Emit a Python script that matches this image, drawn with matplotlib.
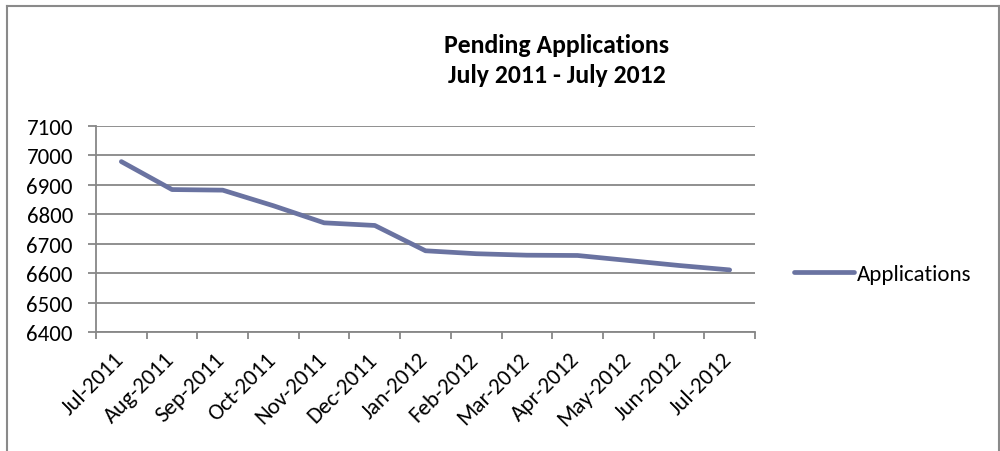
import matplotlib
matplotlib.use("Agg")
import matplotlib.pyplot as plt
from matplotlib.lines import Line2D
from matplotlib import font_manager
from matplotlib.transforms import ScaledTranslation

months = ["Jul-2011", "Aug-2011", "Sep-2011", "Oct-2011", "Nov-2011", "Dec-2011",
          "Jan-2012", "Feb-2012", "Mar-2012", "Apr-2012", "May-2012", "Jun-2012", "Jul-2012"]
applications = [6979, 6884, 6882, 6829, 6771, 6762, 6676, 6666, 6661, 6660, 6643, 6626, 6611]
y_ticks = [6400, 6500, 6600, 6700, 6800, 6900, 7000, 7100]
title_lines = ["Pending Applications", "July 2011 - July 2012"]
series_name = "Applications"

names = {f.name for f in font_manager.fontManager.ttflist}
if 'Carlito' in names:
    plt.rcParams['font.family'] = ['Carlito', 'DejaVu Sans']
    fs, fs_title = 16.5, 18.5
else:
    plt.rcParams['font.family'] = ['Lato', 'DejaVu Sans']
    fs, fs_title = 14.5, 17.5

W, H = 1000, 452
fig = plt.figure(figsize=(W / 100, H / 100), dpi=100)
ax = fig.add_axes([96 / W, 1 - 333 / H, (755 - 96) / W, (333 - 127) / H])

line_color = '#6a73a1'
grid_color = '#878787'
x = list(range(len(months)))
ax.plot(x, applications, color=line_color, lw=3.4, solid_capstyle='round',
        solid_joinstyle='round', label=series_name)

ax.set_xlim(-0.5, len(months) - 0.5)
ax.set_ylim(y_ticks[0], y_ticks[-1])
ax.set_yticks(y_ticks)
ax.set_yticklabels([str(v) for v in y_ticks])
ax.yaxis.grid(True, color=grid_color, lw=1.3)
ax.set_axisbelow(True)

ax.set_xticks([i - 0.5 for i in range(len(months) + 1)])
ax.set_xticklabels([])
ax.set_xticks(x, minor=True)
ax.set_xticklabels(months, minor=True, rotation=45, ha='right', va='top',
                   rotation_mode='default')
ax.tick_params(axis='x', which='major', length=5, width=1.3, color=grid_color)
ax.tick_params(axis='x', which='minor', length=0, pad=12, labelsize=fs)
ax.tick_params(axis='y', length=5.8, width=1.3, color=grid_color, pad=10.8, labelsize=fs)
shift = ScaledTranslation(6 / 100, 0, fig.dpi_scale_trans)
for lab in ax.get_xticklabels(minor=True):
    lab.set_transform(lab.get_transform() + shift)

for s in ['top', 'right']:
    ax.spines[s].set_visible(False)
for s in ['left', 'bottom']:
    ax.spines[s].set_color(grid_color)
    ax.spines[s].set_linewidth(1.3)

fig.text(557 / W, 1 - 53 / H, title_lines[0], ha='center', va='baseline',
         fontsize=fs_title, fontweight='bold')
fig.text(557 / W, 1 - 83 / H, title_lines[1], ha='center', va='baseline',
         fontsize=fs_title, fontweight='bold')

fig.legend(handles=[Line2D([0], [0], color=line_color, lw=3.4, solid_capstyle='round')],
           labels=[series_name], loc='center left', bbox_to_anchor=(794 / W, 1 - 275 / H),
           frameon=False, borderpad=0, borderaxespad=0, handlelength=2.6,
           handletextpad=0.15, fontsize=fs)

border_kw = dict(color='#8a8a8a', lw=1.5, transform=fig.transFigure)
fig.add_artist(Line2D([7 / W, 999 / W], [1 - 7 / H, 1 - 7 / H], **border_kw))
fig.add_artist(Line2D([7 / W, 7 / W], [0, 1 - 7 / H], **border_kw))
fig.add_artist(Line2D([999 / W, 999 / W], [0, 1 - 7 / H], **border_kw))

fig.savefig("out.png", dpi=100)
